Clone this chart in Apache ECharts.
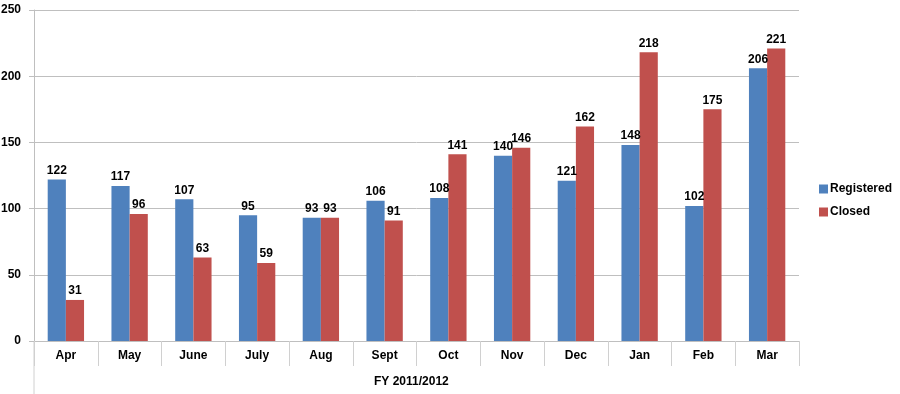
<!DOCTYPE html>
<html><head><meta charset="utf-8">
<script src="https://cdn.jsdelivr.net/npm/echarts@6/dist/echarts.min.js"></script>
<style>html,body{margin:0;padding:0;background:#fff}#c{width:900px;height:394px}</style>
</head><body><div id="c"></div>
<script>
var categories = ['Apr','May','June','July','Aug','Sept','Oct','Nov','Dec','Jan','Feb','Mar'];
var registeredValues = [122,117,107,95,93,106,108,140,121,148,102,206];
var closedValues = [31,96,63,59,93,91,141,146,162,218,175,221];
var groupLabel = 'FY 2011/2012';
var seriesNames = ['Registered','Closed'];

var font = 'Liberation Sans, Arial, sans-serif';
var chart = echarts.init(document.getElementById('c'));
function lbl(){ return {show:true, position:'top', distance:3, fontFamily:font, fontWeight:'bold', fontSize:12, color:'#000'}; }
chart.setOption({
  animation:false,
  grid:{left:34, right:101, top:10, bottom:53, containLabel:false, outerBoundsMode:'none'},
  legend:{orient:'vertical', left:814, top:178, itemWidth:9, itemHeight:9, itemGap:11,
    icon:'rect', textStyle:{fontFamily:font, fontWeight:'bold', fontSize:12, color:'#000', padding:[0,0,0,-3]},
    data:seriesNames},
  xAxis:{type:'category', data:categories,
    axisLine:{show:true, lineStyle:{color:'#bfbfbf'}},
    axisTick:{show:true, interval:0, length:25, lineStyle:{color:'#d0d0d0'}},
    axisLabel:{interval:0, margin:9, fontFamily:font, fontWeight:'bold', fontSize:12, color:'#000'}},
  yAxis:{type:'value', min:0, max:250, interval:50,
    axisLine:{show:true, lineStyle:{color:'#bfbfbf'}},
    axisTick:{show:true, length:5, lineStyle:{color:'#bfbfbf'}},
    splitLine:{lineStyle:{color:'#bfbfbf'}},
    axisLabel:{margin:13, fontFamily:font, fontWeight:'bold', fontSize:12, color:'#000'}},
  series:[
    {name:seriesNames[0], type:'bar', data:registeredValues, barGap:'0%', barCategoryGap:'43%',
     itemStyle:{color:'#4F81BD'}, label:lbl()},
    {name:seriesNames[1], type:'bar', data:closedValues, barGap:'0%', barCategoryGap:'43%',
     itemStyle:{color:'#C0504D'}, label:lbl()}
  ],
  graphic:[
    {type:'line', shape:{x1:34, y1:341, x2:34, y2:394}, style:{stroke:'#d0d0d0', lineWidth:1}},
    {type:'text', left:374, top:376, style:{text:groupLabel, font:'bold 12px '+font, fill:'#000'}}
  ]
});
</script></body></html>
